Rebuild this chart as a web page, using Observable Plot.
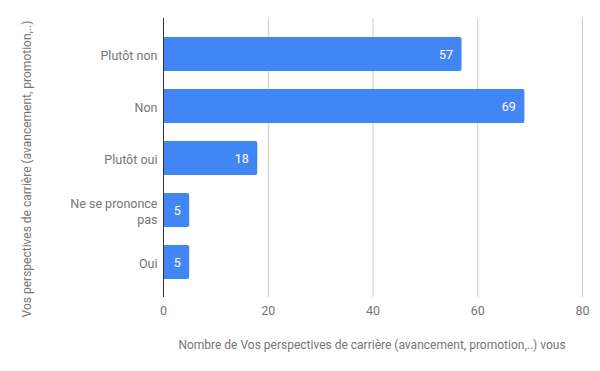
<!DOCTYPE html>
<html><head><meta charset="utf-8">
<script src="https://cdn.jsdelivr.net/npm/d3@7"></script>
<script src="https://cdn.jsdelivr.net/npm/@observablehq/plot@0.6"></script>
<style>body{margin:0;background:#fff;font-family:Roboto,sans-serif}</style>
</head><body><div id="chart"></div>
<script>
const categories = ["Plutôt non", "Non", "Plutôt oui", "Ne se prononce pas", "Oui"];
const values = [57, 69, 18, 5, 5];
const xTicks = [0, 20, 40, 60, 80];
const xTitle = "Nombre de Vos perspectives de carrière (avancement, promotion,..) vous";
const yTitle = "Vos perspectives de carrière (avancement, promotion,..)";

const data = categories.map((c, i) => ({cat: c, v: values[i]}));
const wrap = s => s === "Ne se prononce pas" ? "Ne se prononce\npas" : s;

const plot = Plot.plot({
  width: 600, height: 371,
  marginLeft: 163, marginRight: 18, marginTop: 18, marginBottom: 74,
  style: {fontFamily: "Roboto, sans-serif", fontSize: "12px", color: "#757575", background: "#fff"},
  x: {domain: [0, 80], ticks: xTicks, label: null},
  y: {domain: categories, paddingInner: 0.35, paddingOuter: 0.355, label: null},
  marks: [
    Plot.gridX(xTicks, {stroke: "#cccccc", strokeOpacity: 1}),
    Plot.barX(data, {y: "cat", x: "v", fill: "#4285F4", rx: 2}),
    Plot.text(data, {y: "cat", x: "v", text: d => String(d.v), textAnchor: "end", dx: -9, fill: "#fff", fontSize: 12.5}),
    Plot.ruleX([0], {stroke: "#333"}),
    Plot.axisX({ticks: xTicks, tickSize: 0, tickPadding: 9, fill: "#757575", fontSize: 12.5, label: null}),
    Plot.axisY({tickSize: 0, tickPadding: 6, tickFormat: wrap, fill: "#757575", fontSize: 12.5, lineHeight: 1.3, label: null})
  ]
});
document.getElementById("chart").appendChild(plot);
const svg = d3.select(plot);
svg.append("text").attr("x", 372).attr("y", 349).attr("text-anchor", "middle")
  .attr("fill", "#757575").style("font-size", "12px").text(xTitle);
svg.append("text").attr("transform", "translate(31,169) rotate(-90)").attr("text-anchor", "middle")
  .attr("fill", "#757575").style("font-size", "12px").text(yTitle);
</script></body></html>
